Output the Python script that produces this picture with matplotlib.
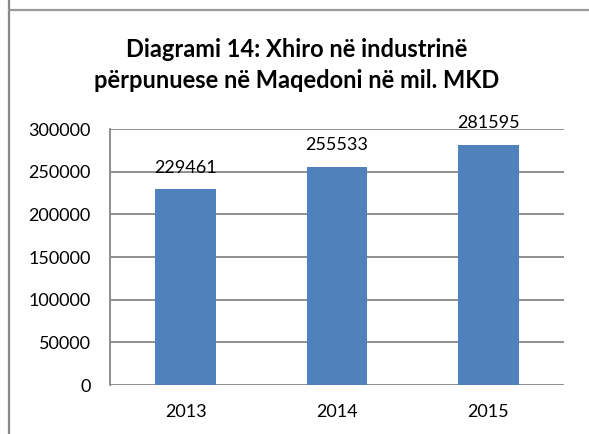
import matplotlib
matplotlib.use("Agg")
import matplotlib.pyplot as plt
from matplotlib.lines import Line2D

# te dhenat
years = ["2013", "2014", "2015"]
values = [229461, 255533, 281595]
yticks = [0, 50000, 100000, 150000, 200000, 250000, 300000]

plt.rcParams['font.family'] = ['Lato', 'DejaVu Sans']

fig = plt.figure(figsize=(5.89, 4.34), dpi=100)
ax = fig.add_axes([110/589, 49/434, 454/589, 256/434])

x = range(len(years))
ax.bar(x, values, width=0.4, color="#4F81BD", zorder=3)

# etiketat mbi shtyllat
for i, v in zip(x, values):
    ax.annotate(str(v), (i, v), xytext=(0, 12), textcoords="offset points",
                ha="center", va="baseline", fontsize=13, color="#000000")

ax.set_xlim(-0.5, 2.5)
ax.set_ylim(0, 300000)
ax.set_xticks(list(x))
ax.set_xticklabels(years)
ax.set_yticks(yticks)
ax.set_yticklabels([str(t) for t in yticks])
ax.tick_params(axis="both", length=0, labelsize=13, colors="#000000")
ax.tick_params(axis="y", pad=14)
ax.tick_params(axis="x", pad=14)

ax.grid(axis="y", color="#868686", linewidth=1.3, zorder=0)
for s in ["top", "right", "bottom"]:
    ax.spines[s].set_visible(False)
ax.spines["left"].set_color("#868686")
ax.spines["left"].set_linewidth(1.3)

# titulli
fig.text(297/589, 1 - 57/434, "Diagrami 14: Xhiro në industrinë",
         ha="center", va="baseline", fontsize=17, fontweight="bold")
fig.text(297/589, 1 - 88/434, "përpunuese në Maqedoni në mil. MKD",
         ha="center", va="baseline", fontsize=17, fontweight="bold")

# korniza
fig.add_artist(Line2D([9/589, 9/589], [0, 1], transform=fig.transFigure,
                      color="#888888", linewidth=1.6))
fig.add_artist(Line2D([9/589, 1], [1 - 10/434, 1 - 10/434], transform=fig.transFigure,
                      color="#999999", linewidth=1.6))

fig.savefig("out.png", dpi=100)
